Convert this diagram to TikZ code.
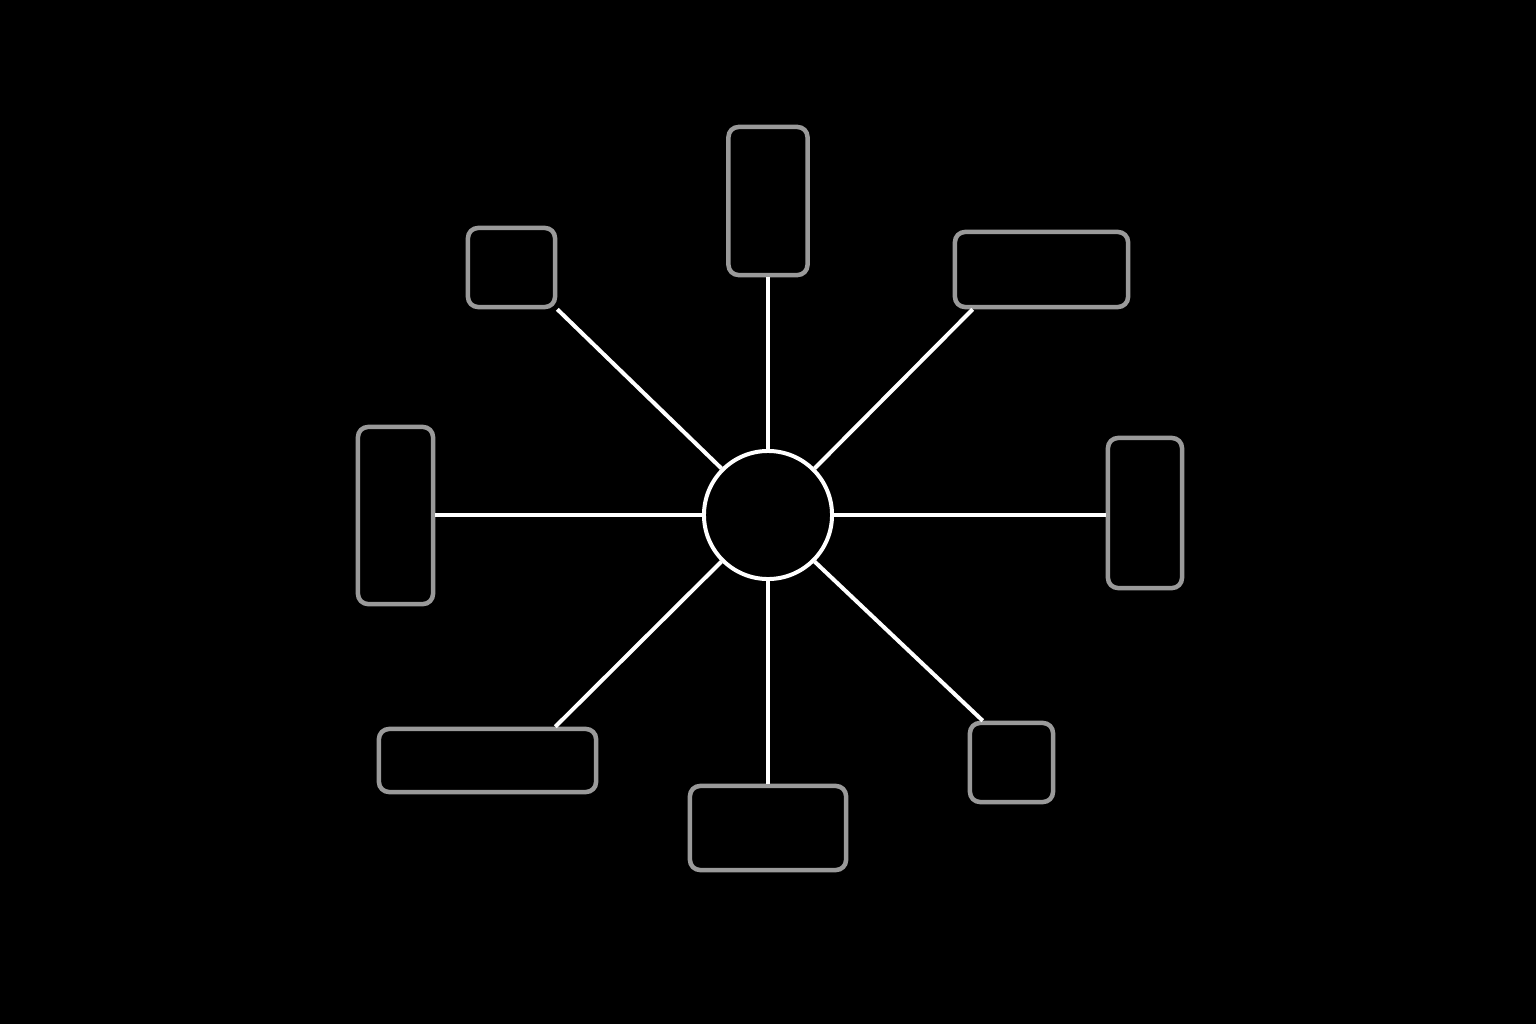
\documentclass[tikz,border=0pt]{standalone}
\usepackage{tikz}
\definecolor{boxgray}{HTML}{9A9A9A}

\begin{document}
\begin{tikzpicture}
[x=0.01cm, y=-0.01cm,
hubnode/.style={circle, draw=white, fill=black, line width=0.04cm, inner sep=0pt, minimum size=1.28cm},
boxnode/.style={rectangle, draw=boxgray, fill=black, line width=0.045cm, rounded corners=0.1cm, inner sep=0pt},
spoke/.style={draw=white, line width=0.04cm},
]
\fill[black] (0,0) rectangle (1536,1024);
\useasboundingbox (0,0) rectangle (1536,1024);

\node[hubnode]	(hub) at (768,515) {};
\node[boxnode, minimum width=0.79cm, minimum height=1.48cm]	(tp) at (768,201) {};
\node[boxnode, minimum width=0.87cm, minimum height=0.79cm]	(tl) at (511.5,267.5) {};
\node[boxnode, minimum width=1.73cm, minimum height=0.75cm]	(tr) at (1041.5,269.5) {};
\node[boxnode, minimum width=0.75cm, minimum height=1.77cm]	(lf) at (395.5,515.5) {};
\node[boxnode, minimum width=0.74cm, minimum height=1.50cm]	(rt) at (1145,513) {};
\node[boxnode, minimum width=2.17cm, minimum height=0.63cm]	(bl) at (487.5,760.5) {};
\node[boxnode, minimum width=1.56cm, minimum height=0.84cm]	(bm) at (768,828) {};
\node[boxnode, minimum width=0.83cm, minimum height=0.79cm]	(br) at (1011.5,762.5) {};

\draw[spoke] (hub.north) -- (tp.south);
\draw[spoke] (hub.south) -- (bm.north);
\draw[spoke] (hub.west) -- (hub.west -| lf.east);
\draw[spoke] (hub.east) -- (hub.east -| rt.west);
\draw[spoke] (hub.135) -- (tl.south east);
\draw[spoke] (hub.45) -- ([xshift=0.2cm]tr.south west);
\draw[spoke] (hub.225) -- ([xshift=-0.43cm]bl.north east);
\draw[spoke] (hub.315) -- ([xshift=0.15cm]br.north west);
\end{tikzpicture}
\end{document}
